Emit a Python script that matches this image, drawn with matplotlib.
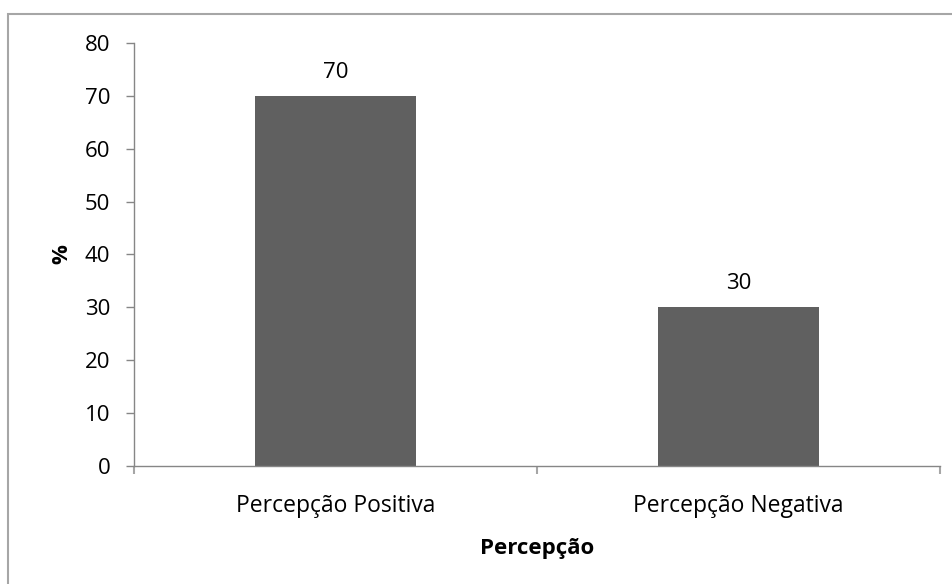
import matplotlib.pyplot as plt
from matplotlib.patches import Rectangle

categories = ["Percepção Positiva", "Percepção Negativa"]
percentages = [70, 30]
y_ticks = [0, 10, 20, 30, 40, 50, 60, 70, 80]

BAR_COLOR = "#606060"
AXIS_COLOR = "#868686"
FONT = ["Open Sans", "DejaVu Sans"]

plt.rcParams["font.family"] = FONT

fig = plt.figure(figsize=(9.53, 5.84), dpi=100)
ax = fig.add_axes([0.1406, 0.2021, 0.8458, 0.7243])

# chart-area frame, runs off the right and bottom edges
fig.patches.append(Rectangle((8 / 953, -0.05), 1.1, 1 - 14 / 584 + 0.05,
                             transform=fig.transFigure, fill=False,
                             edgecolor="#a6a6a6", linewidth=1.5))

x = list(range(len(categories)))
bars = ax.bar(x, percentages, width=0.4, color=BAR_COLOR, zorder=2)
for rect, val in zip(bars, percentages):
    ax.annotate(f"{val}", (rect.get_x() + rect.get_width() / 2, val),
                xytext=(0, 17), textcoords="offset points",
                ha="center", va="center", fontsize=16)

ax.set_xlim(-0.5, len(categories) - 0.5)
ax.set_ylim(0, 80)
ax.set_yticks(y_ticks)
ax.tick_params(axis="y", labelsize=16, length=6, width=1, color=AXIS_COLOR, pad=11)

# category boundaries get the tick marks, names sit on minor ticks
ax.set_xticks([i - 0.5 for i in range(len(categories) + 1)])
ax.set_xticklabels([])
ax.set_xticks(x, minor=True)
ax.set_xticklabels(categories, minor=True, fontsize=16.5)
ax.tick_params(axis="x", which="major", length=6, width=1.5, color="#a6a6a6")
ax.tick_params(axis="x", which="minor", length=0, pad=20.5)

for side in ("top", "right"):
    ax.spines[side].set_visible(False)
for side in ("left", "bottom"):
    ax.spines[side].set_color(AXIS_COLOR)
    ax.spines[side].set_linewidth(1)

ax.set_ylabel("%", fontsize=16, fontweight="bold", labelpad=9)
ax.set_xlabel("Percepção", fontsize=16, fontweight="bold", labelpad=14)

fig.savefig("out.png", dpi=100)
